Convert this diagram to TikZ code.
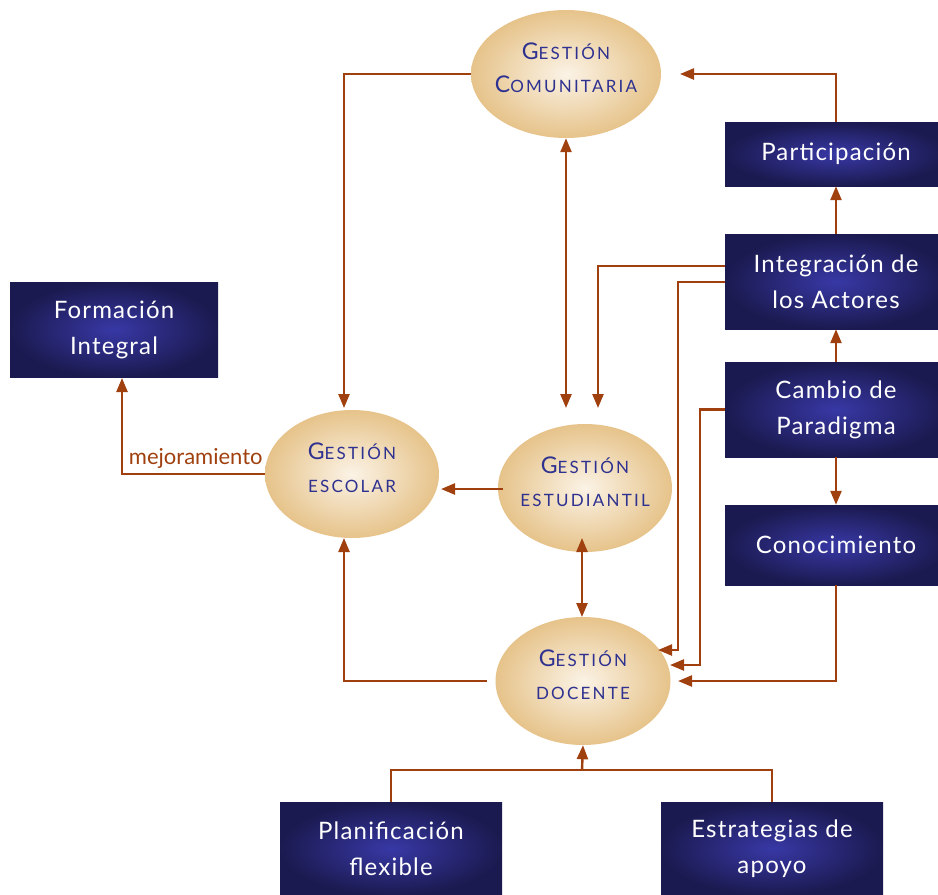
\documentclass[tikz,border=0pt]{standalone}
\usepackage{fontspec}
\setmainfont{Lato}
\newfontfamily\elfont[LetterSpace=13]{Lato}
\newfontfamily\bxfont[LetterSpace=5]{Lato}
\usetikzlibrary{arrows.meta,shapes.geometric,calc}
\definecolor{boxin}{HTML}{3838A6}
\definecolor{boxout}{HTML}{1B1A50}
\definecolor{elin}{HTML}{FBF3E6}
\definecolor{elout}{HTML}{E6C38A}
\definecolor{eltext}{HTML}{2E3190}
\definecolor{conn}{HTML}{A0400F}
\newcommand\bigini[1]{{\fontsize{23}{23}\selectfont #1}}
\tikzset{
  box/.style={rectangle, minimum width=222pt, minimum height=95pt, inner sep=0pt,
    align=center, text=white, shading=radial, inner color=boxin, outer color=boxout,
    font=\bxfont\fontsize{24}{36}\selectfont},
  gest/.style={ellipse, minimum width=174pt, minimum height=128pt, inner xsep=-30pt, inner ysep=0pt,
    align=center, text=eltext, shading=radial, inner color=elin, outer color=elout,
    font=\elfont\fontsize{17}{33}\selectfont, text depth=13pt},
  conline/.style={draw=conn, line width=2.4pt},
  arr/.style={conline, -{Triangle[length=14pt,width=11pt]}},
  arrb/.style={conline, {Triangle[length=14pt,width=11pt]}-{Triangle[length=14pt,width=11pt]}},
  lbl/.style={text=conn, font=\fontsize{22}{22}\selectfont, inner sep=1pt},
}
\begin{document}
\begin{tikzpicture}[x=1pt,y=-1pt]
\useasboundingbox (0,0) rectangle (938,895);
% ellipses
\node[gest, minimum width=190pt] (comu) at (566,74) {\bigini{G}ESTIÓN\\\bigini{C}OMUNITARIA};
\node[gest] (esc) at (352,474) {\bigini{G}ESTIÓN\\ESCOLAR};
\node[gest] (est) at (585,488) {\bigini{G}ESTIÓN\\ESTUDIANTIL};
\node[gest, minimum width=175pt] (doc) at (583,681) {\bigini{G}ESTIÓN\\DOCENTE};
% boxes
\node[box, minimum height=64pt] (part) at (836,154) {Participación};
\node[box] (int) at (836,281.5) {Integración de\\los Actores};
\node[box] (cam) at (836,409.5) {Cambio de\\Paradigma};
\node[box, minimum height=80pt] (con) at (836,545) {Conocimiento};
\node[box, minimum width=208pt] (form) at (114,329.5) {Formación\\Integral};
\node[box, minimum height=93pt] (plan) at (391,848.5) {Planificación\\flexible};
\node[box, minimum height=93pt] (estr) at (772,848.5) {Estrategias de\\apoyo};
% coordinates
\coordinate (a1) at (680,74);
\coordinate (a6) at (598,408);
\coordinate (b7) at (678,650);
\coordinate (a7) at (658,650);
\coordinate (b8) at (700,409.5);
\coordinate (c8) at (700,665);
\coordinate (a8) at (670,665);
\coordinate (a5) at (678,681);
\coordinate (a9) at (344,408);
\coordinate (t10) at (566,408);
\coordinate (a11) at (441,489);
\coordinate (s11) at (503,489);
\coordinate (t12) at (582,538);
\coordinate (b12) at (582,617);
\coordinate (s13) at (487,681);
\coordinate (a13) at (344,538);
\coordinate (a14) at (122,378);
\coordinate (j) at (582,770);
% connectors
\draw[arr] (part.north) |- (a1);
\draw[arr] (int.north) -- (part.south);
\draw[arr] (cam.north) -- (int.south);
\draw[arr] (cam.south) -- (con.north);
\draw[arr] (con.south) |- (a5);
\draw[arr] ([yshift=15.5pt]int.west) -| (a6);
\draw[arr] ([yshift=-0.5pt]int.west) -| (b7) -- (a7);
\draw[arr] (cam.west) -- (b8) -- (c8) -- (a8);
\draw[arr] (comu.west) -| (a9);
\draw[arrb] (comu.south) -- (t10);
\draw[arr] (s11) -- (a11);
\draw[arrb] (t12) -- (b12);
\draw[arr] (s13) -| (a13);
\draw[arr] (esc.west) node[lbl, anchor=south east, yshift=3pt] {mejoramiento} -| (a14);
\draw[conline] (plan.north) |- (j) -| (estr.north);
\draw[arr] (j) -- (doc.south);
\end{tikzpicture}
\end{document}
